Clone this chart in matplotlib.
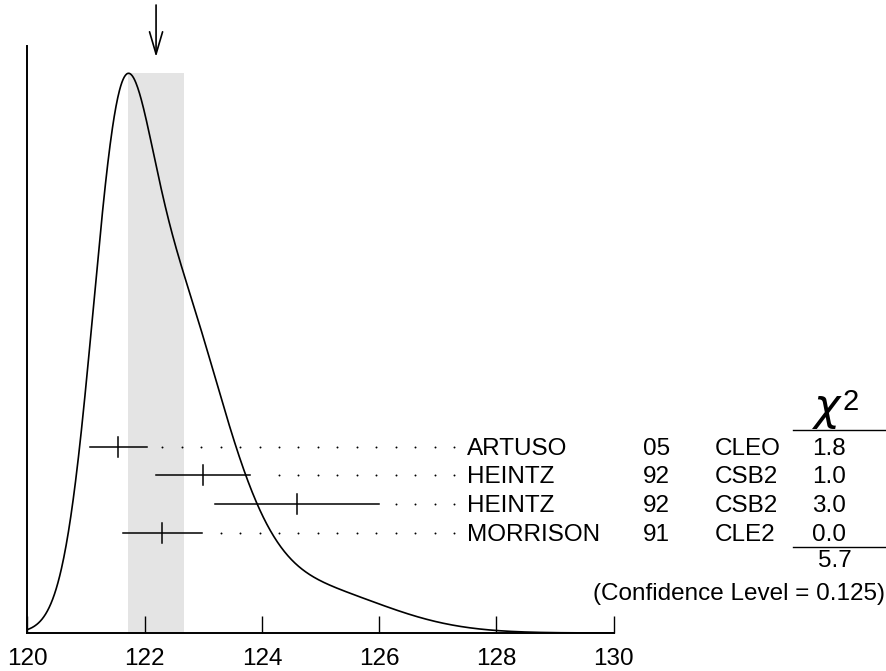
import numpy as np
import matplotlib.pyplot as plt
from matplotlib.lines import Line2D
from matplotlib.transforms import blended_transform_factory

# measurements (photon energy in MeV)
authors = ['ARTUSO', 'HEINTZ', 'HEINTZ', 'MORRISON']
years = ['05', '92', '92', '91']
experiments = ['CLEO', 'CSB2', 'CSB2', 'CLE2']
values = np.array([121.55, 123.0, 124.6, 122.3])
errors = np.array([0.487, 0.8, 1.4, 0.671])
chi2_labels = ['1.8', '1.0', '3.0', '0.0']
chi2_total = '5.7'
conf_level = '0.125'
xticks = [120, 122, 124, 126, 128, 130]

# weighted average, error scaled by sqrt(chi2/(N-1))
w = 1 / errors**2
mean = np.sum(w * values) / np.sum(w)
chi2 = np.sum(w * (values - mean)**2)
scale = np.sqrt(chi2 / (len(values) - 1))
err = scale / np.sqrt(np.sum(w))

# ideogram: one gaussian per measurement, area proportional to 1/sigma
x = np.linspace(120, 130, 1000)
ideo = np.zeros_like(x)
for v, e in zip(values, errors):
    ideo += np.exp(-0.5 * ((x - v) / e)**2) / e**2

plt.rcParams['font.family'] = ['Liberation Sans', 'DejaVu Sans']
plt.rcParams['mathtext.fontset'] = 'dejavusans'

W, H = 886, 671
fig = plt.figure(figsize=(W / 100, H / 100), dpi=100)
ax = fig.add_axes([27.4 / W, 1 - 633 / H, 586.2 / W, 587.3 / H])


def fx(px):
    return px / W


def fy(py):
    return 1 - py / H


ax.fill_between([mean - err, mean + err], 0, ideo.max(), color='#e4e4e4', lw=0, zorder=0)
ax.plot(x, ideo, color='k', lw=1.2)

ax.set_xlim(120, 130)
ax.set_ylim(0, ideo.max() / 0.953)
ax.spines[['top', 'right']].set_visible(False)
ax.spines[['left', 'bottom']].set_linewidth(1.4)
ax.set_xticks(xticks)
ax.set_yticks([])
ax.tick_params(axis='x', direction='in', length=12.2, width=1, labelsize=17.5, pad=11)

trans = blended_transform_factory(ax.transData, fig.transFigure)

# arrow at the weighted average
ax.annotate('', xy=(mean, fy(57)), xytext=(mean, fy(5)), xycoords=trans, textcoords=trans,
            arrowprops=dict(arrowstyle='->,head_length=1.6,head_width=0.47', lw=1.2,
                            color='k', shrinkA=0, shrinkB=0, mutation_scale=10),
            annotation_clip=False)

# measurement rows
fs = 17.5
row_px = 446.7 + 28.67 * np.arange(len(values))
for i, (v, e) in enumerate(zip(values, errors)):
    yr = row_px[i]
    ax.plot([v - e, v + e], [fy(yr), fy(yr)], transform=trans, color='k', lw=1.1, clip_on=False)
    ax.plot([v, v], [fy(yr - 10), fy(yr + 10)], transform=trans, color='k', lw=1.1, clip_on=False)
    dots = np.arange(127.28, v + e + 0.22, -0.332)
    ax.plot(dots, [fy(yr)] * len(dots), 'o', ms=1.4, color='k', mew=0,
            transform=trans, clip_on=False)
    fig.text(fx(467), fy(yr + 8), authors[i], fontsize=fs, va='baseline')
    fig.text(fx(643), fy(yr + 8), years[i], fontsize=fs, va='baseline')
    fig.text(fx(715), fy(yr + 8), experiments[i], fontsize=fs, va='baseline')
    fig.text(fx(829), fy(yr + 8), chi2_labels[i], fontsize=fs, va='baseline', ha='center')

# chi2 column header and totals
fig.text(fx(812), fy(420), r'$\chi$', fontsize=32, va='baseline')
fig.text(fx(842), fy(410), '2', fontsize=21, va='baseline')
fig.add_artist(Line2D([fx(793), fx(886)], [fy(430), fy(430)], color='k', lw=1))
fig.add_artist(Line2D([fx(793), fx(886)], [fy(547), fy(547)], color='k', lw=1))
fig.text(fx(835), fy(566.7), chi2_total, fontsize=fs, va='baseline', ha='center')
fig.text(fx(885), fy(600), '(Confidence Level = ' + conf_level + ')', fontsize=fs,
         va='baseline', ha='right')

fig.savefig('out.png', dpi=100)
